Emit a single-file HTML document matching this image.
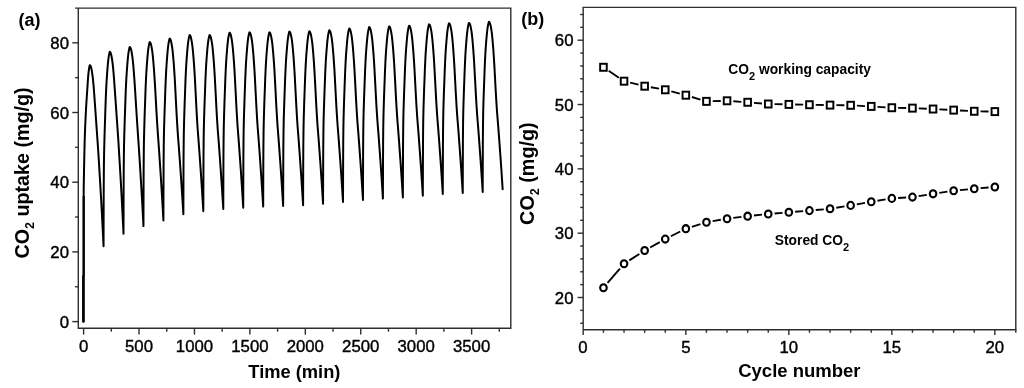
<!DOCTYPE html>
<html><head><meta charset="utf-8"><title>chart</title>
<style>
html,body{margin:0;padding:0;background:#fff;}
svg{display:block;will-change:transform;}
text{font-family:"Liberation Sans",sans-serif;fill:#000;}
.tk{font-size:16.75px;stroke:#000;stroke-width:0.4px;}
.b{font-weight:bold;}
</style></head><body>
<svg width="1024" height="388" viewBox="0 0 1024 388">
<rect width="1024" height="388" fill="#fff"/>

<g stroke="#2e2e2e" stroke-width="1.4" fill="none">
<path d="M78.3 8.1 V328.3 H510.8 V8.1 H75.0"/>
<path d="M83.60 328.3 v6.3"/>
<path d="M111.31 328.3 v3.4"/>
<path d="M139.03 328.3 v6.3"/>
<path d="M166.75 328.3 v3.4"/>
<path d="M194.46 328.3 v6.3"/>
<path d="M222.17 328.3 v3.4"/>
<path d="M249.89 328.3 v6.3"/>
<path d="M277.61 328.3 v3.4"/>
<path d="M305.32 328.3 v6.3"/>
<path d="M333.03 328.3 v3.4"/>
<path d="M360.75 328.3 v6.3"/>
<path d="M388.47 328.3 v3.4"/>
<path d="M416.18 328.3 v6.3"/>
<path d="M443.89 328.3 v3.4"/>
<path d="M471.61 328.3 v6.3"/>
<path d="M499.33 328.3 v3.4"/>
<path d="M78.3 321.60 h-6"/>
<path d="M78.3 286.75 h-3.2"/>
<path d="M78.3 251.90 h-6"/>
<path d="M78.3 217.05 h-3.2"/>
<path d="M78.3 182.20 h-6"/>
<path d="M78.3 147.35 h-3.2"/>
<path d="M78.3 112.50 h-6"/>
<path d="M78.3 77.65 h-3.2"/>
<path d="M78.3 42.80 h-6"/>
</g>
<text class="tk" x="83.60" y="352.2" text-anchor="middle">0</text>
<text class="tk" x="139.03" y="352.2" text-anchor="middle">500</text>
<text class="tk" x="194.46" y="352.2" text-anchor="middle">1000</text>
<text class="tk" x="249.89" y="352.2" text-anchor="middle">1500</text>
<text class="tk" x="305.32" y="352.2" text-anchor="middle">2000</text>
<text class="tk" x="360.75" y="352.2" text-anchor="middle">2500</text>
<text class="tk" x="416.18" y="352.2" text-anchor="middle">3000</text>
<text class="tk" x="471.61" y="352.2" text-anchor="middle">3500</text>
<text class="tk" x="69" y="327.70" text-anchor="end">0</text>
<text class="tk" x="69" y="258.00" text-anchor="end">20</text>
<text class="tk" x="69" y="188.30" text-anchor="end">40</text>
<text class="tk" x="69" y="118.60" text-anchor="end">60</text>
<text class="tk" x="69" y="48.90" text-anchor="end">80</text>
<path d="M83.60 321.60 L83.60 276.30 L83.67 275.60 L83.69 189.17 L83.77 184.63 L83.93 175.17 L84.10 166.22 L84.27 157.92 L84.43 150.40 L84.60 143.82 L84.76 138.29 L84.93 133.40 L85.10 128.94 L85.26 124.87 L85.43 121.11 L85.60 117.60 L85.76 114.29 L85.93 111.10 L86.09 107.99 L86.26 105.05 L86.43 102.28 L86.59 99.66 L86.76 97.14 L86.93 94.69 L87.09 92.27 L87.26 89.85 L87.42 87.35 L87.59 84.77 L87.76 82.20 L87.92 79.72 L88.09 77.41 L88.26 75.34 L88.42 73.61 L88.59 72.19 L88.75 70.85 L88.92 69.58 L89.09 68.41 L89.25 67.36 L89.42 66.47 L89.59 65.75 L89.75 65.23 L90.03 65.20 L90.25 65.43 L90.47 65.74 L90.70 66.19 L90.92 66.86 L91.14 67.64 L91.36 68.53 L91.58 69.58 L91.80 70.77 L92.03 72.09 L92.25 73.53 L92.47 75.07 L92.69 76.82 L92.91 78.83 L93.13 81.06 L93.36 83.44 L93.58 85.94 L93.80 88.53 L94.02 91.37 L94.24 94.41 L94.46 97.55 L94.69 100.70 L94.91 103.79 L95.13 106.89 L95.35 110.01 L95.57 113.15 L95.79 116.31 L96.02 119.48 L96.24 122.64 L96.46 125.81 L96.68 128.96 L96.90 132.08 L97.12 135.20 L97.35 138.32 L97.57 141.47 L97.79 144.65 L98.01 147.89 L98.23 151.20 L98.46 154.59 L98.68 158.09 L98.90 161.69 L99.12 165.36 L99.34 169.08 L99.56 172.82 L99.79 176.55 L100.01 180.28 L100.23 184.00 L100.45 187.75 L100.67 191.52 L100.89 195.35 L101.12 199.23 L101.34 203.19 L101.56 207.25 L101.78 211.41 L102.00 215.64 L102.22 219.91 L102.45 224.22 L102.67 228.55 L102.89 232.93 L103.11 237.35 L103.33 241.81 L103.55 246.32 L103.61 222.38 L103.67 201.83 L103.72 187.99 L103.78 179.50 L103.89 167.12 L104.00 158.82 L104.11 152.57 L104.22 147.63 L104.44 139.37 L104.66 131.64 L104.89 124.70 L105.11 117.98 L105.33 111.15 L105.55 104.53 L105.77 98.53 L106.10 90.65 L106.44 83.95 L106.77 78.54 L107.10 73.84 L107.43 69.29 L107.77 65.12 L108.10 61.70 L108.43 58.80 L108.77 56.41 L109.10 54.55 L109.43 52.99 L109.76 51.86 L109.98 51.96 L110.21 52.19 L110.43 52.50 L110.65 52.95 L110.87 53.62 L111.09 54.41 L111.31 55.30 L111.54 56.35 L111.76 57.55 L111.98 58.87 L112.20 60.32 L112.42 61.87 L112.65 63.62 L112.87 65.64 L113.09 67.87 L113.31 70.27 L113.53 72.78 L113.75 75.38 L113.98 78.23 L114.20 81.28 L114.42 84.44 L114.64 87.60 L114.86 90.70 L115.08 93.81 L115.31 96.94 L115.53 100.10 L115.75 103.26 L115.97 106.44 L116.19 109.62 L116.41 112.80 L116.64 115.96 L116.86 119.10 L117.08 122.23 L117.30 125.36 L117.52 128.52 L117.74 131.71 L117.97 134.96 L118.19 138.28 L118.41 141.69 L118.63 145.21 L118.85 148.82 L119.08 152.50 L119.30 156.24 L119.52 159.99 L119.74 163.74 L119.96 167.48 L120.18 171.22 L120.41 174.98 L120.63 178.77 L120.85 182.60 L121.07 186.50 L121.29 190.48 L121.51 194.56 L121.74 198.73 L121.96 202.97 L122.18 207.26 L122.40 211.58 L122.62 215.93 L122.84 220.33 L123.07 224.77 L123.29 229.25 L123.51 233.78 L123.57 210.77 L123.62 191.04 L123.68 177.74 L123.73 169.59 L123.84 157.70 L123.95 149.72 L124.06 143.72 L124.17 138.97 L124.40 131.04 L124.62 123.61 L124.84 116.94 L125.06 110.49 L125.28 103.94 L125.51 97.58 L125.73 91.81 L126.06 84.24 L126.39 77.80 L126.72 72.61 L127.06 68.09 L127.39 63.73 L127.72 59.72 L128.05 56.43 L128.39 53.65 L128.72 51.35 L129.05 49.56 L129.39 48.07 L129.72 46.98 L129.94 47.07 L130.16 47.31 L130.38 47.61 L130.60 48.06 L130.83 48.72 L131.05 49.49 L131.27 50.37 L131.49 51.40 L131.71 52.57 L131.93 53.88 L132.16 55.30 L132.38 56.83 L132.60 58.57 L132.82 60.59 L133.04 62.82 L133.27 65.22 L133.49 67.73 L133.71 70.34 L133.93 73.19 L134.15 76.24 L134.37 79.43 L134.60 82.68 L134.82 85.94 L135.04 89.32 L135.26 92.79 L135.48 96.31 L135.70 99.83 L135.93 103.38 L136.15 106.96 L136.37 110.53 L136.59 114.05 L136.81 117.47 L137.03 120.85 L137.26 124.19 L137.48 127.49 L137.70 130.75 L137.92 133.96 L138.14 137.15 L138.36 140.36 L138.59 143.62 L138.81 146.95 L139.03 150.37 L139.25 153.84 L139.47 157.34 L139.70 160.85 L139.92 164.36 L140.14 167.88 L140.36 171.42 L140.58 174.98 L140.80 178.59 L141.03 182.24 L141.25 185.95 L141.47 189.74 L141.69 193.60 L141.91 197.53 L142.13 201.50 L142.36 205.51 L142.58 209.54 L142.80 213.62 L143.02 217.74 L143.24 221.91 L143.46 226.11 L143.52 203.45 L143.58 184.01 L143.63 170.91 L143.69 162.88 L143.80 151.17 L143.91 143.31 L144.02 137.40 L144.13 132.72 L144.35 124.91 L144.57 117.59 L144.79 111.02 L145.02 104.67 L145.24 98.21 L145.46 91.94 L145.68 86.26 L146.01 78.81 L146.35 72.46 L146.68 67.35 L147.01 62.90 L147.34 58.60 L147.68 54.65 L148.01 51.41 L148.34 48.67 L148.67 46.41 L149.01 44.65 L149.34 43.18 L149.67 42.10 L149.89 42.20 L150.12 42.43 L150.34 42.73 L150.56 43.17 L150.78 43.83 L151.00 44.60 L151.22 45.48 L151.45 46.50 L151.67 47.67 L151.89 48.97 L152.11 50.38 L152.33 51.92 L152.55 53.66 L152.78 55.69 L153.00 57.95 L153.22 60.38 L153.44 62.93 L153.66 65.57 L153.89 68.45 L154.11 71.54 L154.33 74.80 L154.55 78.16 L154.77 81.62 L154.99 85.30 L155.22 89.14 L155.44 93.06 L155.66 96.97 L155.88 100.92 L156.10 104.93 L156.32 108.94 L156.55 112.84 L156.77 116.58 L156.99 120.24 L157.21 123.83 L157.43 127.31 L157.65 130.66 L157.88 133.87 L158.10 136.97 L158.32 140.02 L158.54 143.06 L158.76 146.16 L158.98 149.35 L159.21 152.62 L159.43 155.91 L159.65 159.22 L159.87 162.55 L160.09 165.89 L160.32 169.25 L160.54 172.64 L160.76 176.05 L160.98 179.50 L161.20 183.00 L161.42 186.55 L161.65 190.15 L161.87 193.81 L162.09 197.51 L162.31 201.25 L162.53 205.03 L162.75 208.85 L162.98 212.70 L163.20 216.60 L163.42 220.54 L163.47 198.13 L163.53 178.91 L163.59 165.96 L163.64 158.03 L163.75 146.45 L163.86 138.67 L163.97 132.83 L164.08 128.21 L164.31 120.48 L164.53 113.25 L164.75 106.75 L164.97 100.47 L165.19 94.09 L165.41 87.89 L165.64 82.28 L165.97 74.90 L166.30 68.63 L166.63 63.58 L166.97 59.17 L167.30 54.92 L167.63 51.02 L167.96 47.82 L168.30 45.11 L168.63 42.88 L168.96 41.13 L169.29 39.68 L169.63 38.62 L169.85 38.71 L170.07 38.94 L170.29 39.23 L170.51 39.67 L170.74 40.32 L170.96 41.08 L171.18 41.94 L171.40 42.94 L171.62 44.09 L171.84 45.37 L172.07 46.76 L172.29 48.28 L172.51 50.01 L172.73 52.03 L172.95 54.28 L173.17 56.71 L173.40 59.27 L173.62 61.92 L173.84 64.79 L174.06 67.88 L174.28 71.16 L174.51 74.61 L174.73 78.22 L174.95 82.15 L175.17 86.31 L175.39 90.58 L175.61 94.82 L175.84 99.11 L176.06 103.50 L176.28 107.88 L176.50 112.12 L176.72 116.13 L176.94 120.03 L177.17 123.81 L177.39 127.42 L177.61 130.83 L177.83 134.00 L178.05 136.97 L178.27 139.83 L178.50 142.63 L178.72 145.46 L178.94 148.40 L179.16 151.42 L179.38 154.47 L179.60 157.54 L179.83 160.65 L180.05 163.77 L180.27 166.92 L180.49 170.10 L180.71 173.29 L180.94 176.50 L181.16 179.74 L181.38 183.01 L181.60 186.32 L181.82 189.67 L182.04 193.07 L182.27 196.50 L182.49 199.98 L182.71 203.49 L182.93 207.05 L183.15 210.64 L183.37 214.26 L183.43 192.20 L183.48 173.28 L183.54 160.52 L183.60 152.71 L183.71 141.31 L183.82 133.65 L183.93 127.90 L184.04 123.35 L184.26 115.74 L184.48 108.62 L184.70 102.22 L184.93 96.04 L185.15 89.75 L185.37 83.65 L185.59 78.12 L185.92 70.86 L186.26 64.69 L186.59 59.71 L186.92 55.37 L187.25 51.19 L187.59 47.34 L187.92 44.19 L188.25 41.53 L188.58 39.33 L188.92 37.61 L189.25 36.18 L189.58 35.13 L189.80 35.22 L190.03 35.45 L190.25 35.75 L190.47 36.19 L190.69 36.84 L190.91 37.60 L191.13 38.46 L191.36 39.47 L191.58 40.62 L191.80 41.89 L192.02 43.30 L192.24 44.81 L192.46 46.55 L192.69 48.57 L192.91 50.83 L193.13 53.26 L193.35 55.82 L193.57 58.48 L193.79 61.36 L194.02 64.46 L194.24 67.74 L194.46 71.19 L194.68 74.81 L194.90 78.75 L195.13 82.92 L195.35 87.20 L195.57 91.45 L195.79 95.75 L196.01 100.15 L196.23 104.53 L196.46 108.78 L196.68 112.80 L196.90 116.70 L197.12 120.49 L197.34 124.11 L197.56 127.53 L197.79 130.70 L198.01 133.68 L198.23 136.54 L198.45 139.35 L198.67 142.19 L198.89 145.13 L199.12 148.16 L199.34 151.21 L199.56 154.29 L199.78 157.40 L200.00 160.54 L200.22 163.69 L200.45 166.87 L200.67 170.07 L200.89 173.29 L201.11 176.53 L201.33 179.81 L201.56 183.13 L201.78 186.49 L202.00 189.89 L202.22 193.33 L202.44 196.82 L202.66 200.34 L202.89 203.89 L203.11 207.49 L203.33 211.13 L203.38 189.45 L203.44 170.86 L203.50 158.33 L203.55 150.65 L203.66 139.45 L203.77 131.93 L203.88 126.28 L203.99 121.80 L204.22 114.33 L204.44 107.33 L204.66 101.05 L204.88 94.97 L205.10 88.79 L205.32 82.80 L205.55 77.37 L205.88 70.24 L206.21 64.17 L206.54 59.28 L206.88 55.02 L207.21 50.91 L207.54 47.13 L207.87 44.03 L208.21 41.42 L208.54 39.25 L208.87 37.57 L209.20 36.16 L209.54 35.13 L209.76 35.22 L209.98 35.45 L210.20 35.74 L210.42 36.18 L210.65 36.82 L210.87 37.57 L211.09 38.42 L211.31 39.42 L211.53 40.55 L211.75 41.81 L211.98 43.20 L212.20 44.70 L212.42 46.41 L212.64 48.41 L212.86 50.64 L213.08 53.05 L213.31 55.58 L213.53 58.20 L213.75 61.05 L213.97 64.11 L214.19 67.36 L214.41 70.77 L214.64 74.34 L214.86 78.23 L215.08 82.35 L215.30 86.58 L215.52 90.78 L215.75 95.03 L215.97 99.38 L216.19 103.71 L216.41 107.90 L216.63 111.87 L216.85 115.73 L217.08 119.48 L217.30 123.06 L217.52 126.43 L217.74 129.57 L217.96 132.51 L218.18 135.34 L218.41 138.11 L218.63 140.92 L218.85 143.82 L219.07 146.81 L219.29 149.83 L219.51 152.88 L219.74 155.95 L219.96 159.05 L220.18 162.17 L220.40 165.31 L220.62 168.47 L220.84 171.64 L221.07 174.85 L221.29 178.09 L221.51 181.37 L221.73 184.69 L221.95 188.05 L222.17 191.45 L222.40 194.89 L222.62 198.37 L222.84 201.89 L223.06 205.44 L223.28 209.03 L223.34 187.32 L223.39 168.69 L223.45 156.13 L223.51 148.44 L223.62 137.22 L223.73 129.68 L223.84 124.02 L223.95 119.53 L224.17 112.05 L224.39 105.04 L224.61 98.74 L224.84 92.65 L225.06 86.46 L225.28 80.46 L225.50 75.02 L225.83 67.87 L226.17 61.79 L226.50 56.89 L226.83 52.62 L227.16 48.50 L227.50 44.71 L227.83 41.61 L228.16 38.99 L228.49 36.82 L228.83 35.13 L229.16 33.72 L229.49 32.69 L229.71 32.78 L229.94 33.01 L230.16 33.31 L230.38 33.74 L230.60 34.39 L230.82 35.14 L231.04 36.00 L231.27 37.00 L231.49 38.14 L231.71 39.41 L231.93 40.81 L232.15 42.32 L232.37 44.04 L232.60 46.05 L232.82 48.29 L233.04 50.72 L233.26 53.26 L233.48 55.90 L233.70 58.76 L233.93 61.84 L234.15 65.11 L234.37 68.54 L234.59 72.14 L234.81 76.05 L235.03 80.20 L235.26 84.45 L235.48 88.68 L235.70 92.95 L235.92 97.32 L236.14 101.68 L236.37 105.90 L236.59 109.89 L236.81 113.78 L237.03 117.54 L237.25 121.15 L237.47 124.54 L237.70 127.70 L237.92 130.66 L238.14 133.50 L238.36 136.29 L238.58 139.12 L238.80 142.04 L239.03 145.04 L239.25 148.08 L239.47 151.15 L239.69 154.24 L239.91 157.35 L240.13 160.49 L240.36 163.65 L240.58 166.83 L240.80 170.03 L241.02 173.25 L241.24 176.51 L241.46 179.81 L241.69 183.15 L241.91 186.53 L242.13 189.95 L242.35 193.42 L242.57 196.91 L242.79 200.45 L243.02 204.03 L243.24 207.64 L243.29 186.05 L243.35 167.53 L243.40 155.05 L243.46 147.41 L243.57 136.25 L243.68 128.76 L243.79 123.13 L243.90 118.67 L244.13 111.23 L244.35 104.26 L244.57 98.00 L244.79 91.95 L245.01 85.79 L245.23 79.83 L245.46 74.42 L245.79 67.31 L246.12 61.27 L246.45 56.40 L246.79 52.15 L247.12 48.06 L247.45 44.29 L247.78 41.21 L248.12 38.60 L248.45 36.45 L248.78 34.77 L249.11 33.37 L249.45 32.34 L249.67 32.44 L249.89 32.66 L250.11 32.95 L250.33 33.39 L250.56 34.03 L250.78 34.78 L251.00 35.64 L251.22 36.64 L251.44 37.77 L251.66 39.04 L251.89 40.43 L252.11 41.93 L252.33 43.65 L252.55 45.65 L252.77 47.88 L252.99 50.30 L253.22 52.83 L253.44 55.46 L253.66 58.31 L253.88 61.38 L254.10 64.63 L254.32 68.05 L254.55 71.63 L254.77 75.53 L254.99 79.66 L255.21 83.89 L255.43 88.11 L255.65 92.36 L255.88 96.72 L256.10 101.06 L256.32 105.26 L256.54 109.24 L256.76 113.11 L256.99 116.86 L257.21 120.44 L257.43 123.83 L257.65 126.97 L257.87 129.92 L258.09 132.75 L258.32 135.53 L258.54 138.34 L258.76 141.25 L258.98 144.25 L259.20 147.27 L259.42 150.33 L259.65 153.40 L259.87 156.51 L260.09 159.63 L260.31 162.78 L260.53 165.94 L260.75 169.13 L260.98 172.34 L261.20 175.59 L261.42 178.87 L261.64 182.20 L261.86 185.57 L262.08 188.98 L262.31 192.43 L262.53 195.91 L262.75 199.44 L262.97 203.00 L263.19 206.60 L263.25 185.14 L263.30 166.73 L263.36 154.32 L263.41 146.72 L263.53 135.63 L263.64 128.18 L263.75 122.59 L263.86 118.16 L264.08 110.76 L264.30 103.83 L264.52 97.61 L264.75 91.59 L264.97 85.47 L265.19 79.54 L265.41 74.17 L265.74 67.10 L266.08 61.10 L266.41 56.25 L266.74 52.04 L267.07 47.96 L267.41 44.22 L267.74 41.16 L268.07 38.57 L268.40 36.42 L268.74 34.75 L269.07 33.36 L269.40 32.34 L269.62 32.43 L269.84 32.66 L270.07 32.95 L270.29 33.39 L270.51 34.03 L270.73 34.77 L270.95 35.63 L271.18 36.62 L271.40 37.75 L271.62 39.01 L271.84 40.39 L272.06 41.89 L272.28 43.60 L272.51 45.60 L272.73 47.82 L272.95 50.22 L273.17 52.75 L273.39 55.37 L273.61 58.21 L273.84 61.26 L274.06 64.50 L274.28 67.91 L274.50 71.48 L274.72 75.36 L274.94 79.47 L275.17 83.69 L275.39 87.88 L275.61 92.12 L275.83 96.46 L276.05 100.78 L276.27 104.97 L276.50 108.93 L276.72 112.78 L276.94 116.52 L277.16 120.09 L277.38 123.46 L277.61 126.59 L277.83 129.53 L278.05 132.35 L278.27 135.12 L278.49 137.92 L278.71 140.82 L278.94 143.80 L279.16 146.81 L279.38 149.85 L279.60 152.92 L279.82 156.01 L280.04 159.12 L280.27 162.26 L280.49 165.41 L280.71 168.58 L280.93 171.78 L281.15 175.02 L281.37 178.29 L281.60 181.60 L281.82 184.96 L282.04 188.35 L282.26 191.79 L282.48 195.26 L282.70 198.77 L282.93 202.31 L283.15 205.90 L283.20 184.44 L283.26 166.03 L283.31 153.62 L283.37 146.02 L283.48 134.93 L283.59 127.49 L283.70 121.89 L283.81 117.46 L284.03 110.06 L284.26 103.13 L284.48 96.91 L284.70 90.89 L284.92 84.78 L285.14 78.85 L285.37 73.47 L285.70 66.40 L286.03 60.40 L286.36 55.56 L286.70 51.34 L287.03 47.27 L287.36 43.53 L287.69 40.46 L288.03 37.87 L288.36 35.73 L288.69 34.06 L289.02 32.66 L289.36 31.65 L289.58 31.74 L289.80 31.96 L290.02 32.26 L290.24 32.69 L290.46 33.33 L290.69 34.08 L290.91 34.93 L291.13 35.92 L291.35 37.05 L291.57 38.32 L291.80 39.70 L292.02 41.19 L292.24 42.90 L292.46 44.90 L292.68 47.12 L292.90 49.53 L293.13 52.05 L293.35 54.67 L293.57 57.51 L293.79 60.56 L294.01 63.81 L294.23 67.21 L294.46 70.78 L294.68 74.66 L294.90 78.77 L295.12 82.99 L295.34 87.18 L295.56 91.42 L295.79 95.76 L296.01 100.09 L296.23 104.27 L296.45 108.23 L296.67 112.09 L296.89 115.82 L297.12 119.40 L297.34 122.76 L297.56 125.89 L297.78 128.83 L298.00 131.65 L298.22 134.42 L298.45 137.22 L298.67 140.12 L298.89 143.10 L299.11 146.12 L299.33 149.16 L299.56 152.22 L299.78 155.31 L300.00 158.43 L300.22 161.56 L300.44 164.71 L300.66 167.89 L300.89 171.09 L301.11 174.32 L301.33 177.59 L301.55 180.90 L301.77 184.26 L301.99 187.66 L302.22 191.09 L302.44 194.56 L302.66 198.07 L302.88 201.62 L303.10 205.20 L303.16 183.78 L303.21 165.41 L303.27 153.03 L303.32 145.45 L303.44 134.38 L303.55 126.95 L303.66 121.36 L303.77 116.94 L303.99 109.56 L304.21 102.64 L304.43 96.43 L304.65 90.43 L304.88 84.32 L305.10 78.40 L305.32 73.04 L305.65 65.99 L305.99 59.99 L306.32 55.16 L306.65 50.95 L306.98 46.89 L307.32 43.15 L307.65 40.10 L307.98 37.51 L308.31 35.37 L308.65 33.70 L308.98 32.31 L309.31 31.30 L309.53 31.39 L309.75 31.61 L309.98 31.90 L310.20 32.34 L310.42 32.97 L310.64 33.71 L310.86 34.56 L311.08 35.55 L311.31 36.67 L311.53 37.93 L311.75 39.30 L311.97 40.79 L312.19 42.49 L312.42 44.47 L312.64 46.68 L312.86 49.07 L313.08 51.58 L313.30 54.18 L313.52 57.01 L313.75 60.04 L313.97 63.26 L314.19 66.65 L314.41 70.19 L314.63 74.05 L314.85 78.14 L315.08 82.33 L315.30 86.50 L315.52 90.71 L315.74 95.03 L315.96 99.33 L316.18 103.49 L316.41 107.42 L316.63 111.25 L316.85 114.97 L317.07 118.52 L317.29 121.87 L317.51 124.98 L317.74 127.90 L317.96 130.70 L318.18 133.46 L318.40 136.24 L318.62 139.12 L318.84 142.08 L319.07 145.08 L319.29 148.10 L319.51 151.15 L319.73 154.22 L319.95 157.32 L320.18 160.43 L320.40 163.56 L320.62 166.72 L320.84 169.90 L321.06 173.11 L321.28 176.36 L321.51 179.66 L321.73 182.99 L321.95 186.37 L322.17 189.78 L322.39 193.23 L322.61 196.72 L322.84 200.24 L323.06 203.81 L323.11 182.43 L323.17 164.10 L323.22 151.74 L323.28 144.17 L323.39 133.12 L323.50 125.71 L323.61 120.13 L323.72 115.72 L323.94 108.35 L324.17 101.45 L324.39 95.26 L324.61 89.26 L324.83 83.17 L325.05 77.26 L325.27 71.91 L325.61 64.87 L325.94 58.89 L326.27 54.07 L326.61 49.87 L326.94 45.81 L327.27 42.08 L327.60 39.03 L327.94 36.45 L328.27 34.32 L328.60 32.65 L328.93 31.27 L329.27 30.25 L329.49 30.34 L329.71 30.57 L329.93 30.86 L330.15 31.29 L330.37 31.92 L330.60 32.66 L330.82 33.50 L331.04 34.49 L331.26 35.61 L331.48 36.85 L331.70 38.22 L331.93 39.70 L332.15 41.40 L332.37 43.37 L332.59 45.58 L332.81 47.95 L333.03 50.45 L333.26 53.05 L333.48 55.86 L333.70 58.88 L333.92 62.09 L334.14 65.46 L334.37 68.99 L334.59 72.84 L334.81 76.91 L335.03 81.08 L335.25 85.23 L335.47 89.43 L335.70 93.72 L335.92 98.01 L336.14 102.15 L336.36 106.07 L336.58 109.89 L336.80 113.58 L337.03 117.12 L337.25 120.45 L337.47 123.55 L337.69 126.46 L337.91 129.25 L338.13 132.00 L338.36 134.77 L338.58 137.64 L338.80 140.59 L339.02 143.57 L339.24 146.58 L339.46 149.62 L339.69 152.68 L339.91 155.76 L340.13 158.86 L340.35 161.98 L340.57 165.12 L340.80 168.29 L341.02 171.49 L341.24 174.73 L341.46 178.01 L341.68 181.33 L341.90 184.69 L342.13 188.09 L342.35 191.53 L342.57 195.01 L342.79 198.52 L343.01 202.06 L343.07 180.69 L343.12 162.36 L343.18 150.00 L343.23 142.43 L343.34 131.38 L343.46 123.97 L343.57 118.39 L343.68 113.98 L343.90 106.61 L344.12 99.71 L344.34 93.51 L344.56 87.52 L344.79 81.43 L345.01 75.52 L345.23 70.16 L345.56 63.13 L345.89 57.15 L346.23 52.33 L346.56 48.12 L346.89 44.07 L347.23 40.34 L347.56 37.29 L347.89 34.71 L348.22 32.57 L348.56 30.91 L348.89 29.52 L349.22 28.51 L349.44 28.60 L349.66 28.82 L349.89 29.11 L350.11 29.54 L350.33 30.17 L350.55 30.91 L350.77 31.75 L350.99 32.74 L351.22 33.85 L351.44 35.10 L351.66 36.46 L351.88 37.94 L352.10 39.63 L352.32 41.60 L352.55 43.80 L352.77 46.17 L352.99 48.67 L353.21 51.26 L353.43 54.06 L353.65 57.08 L353.88 60.28 L354.10 63.64 L354.32 67.17 L354.54 71.01 L354.76 75.07 L354.99 79.23 L355.21 83.38 L355.43 87.56 L355.65 91.85 L355.87 96.13 L356.09 100.26 L356.32 104.17 L356.54 107.98 L356.76 111.67 L356.98 115.20 L357.20 118.53 L357.42 121.62 L357.65 124.52 L357.87 127.31 L358.09 130.05 L358.31 132.81 L358.53 135.68 L358.75 138.62 L358.98 141.60 L359.20 144.60 L359.42 147.63 L359.64 150.69 L359.86 153.76 L360.08 156.86 L360.31 159.97 L360.53 163.11 L360.75 166.27 L360.97 169.46 L361.19 172.70 L361.42 175.97 L361.64 179.28 L361.86 182.64 L362.08 186.03 L362.30 189.46 L362.52 192.93 L362.75 196.43 L362.97 199.97 L363.02 178.69 L363.08 160.42 L363.13 148.12 L363.19 140.58 L363.30 129.57 L363.41 122.19 L363.52 116.64 L363.63 112.24 L363.85 104.90 L364.08 98.03 L364.30 91.86 L364.52 85.89 L364.74 79.82 L364.96 73.94 L365.18 68.60 L365.52 61.60 L365.85 55.64 L366.18 50.84 L366.51 46.65 L366.85 42.61 L367.18 38.90 L367.51 35.86 L367.85 33.29 L368.18 31.16 L368.51 29.51 L368.84 28.12 L369.18 27.12 L369.40 27.21 L369.62 27.43 L369.84 27.72 L370.06 28.15 L370.28 28.78 L370.51 29.52 L370.73 30.36 L370.95 31.34 L371.17 32.46 L371.39 33.70 L371.61 35.07 L371.84 36.55 L372.06 38.24 L372.28 40.21 L372.50 42.41 L372.72 44.78 L372.94 47.27 L373.17 49.86 L373.39 52.67 L373.61 55.69 L373.83 58.89 L374.05 62.25 L374.27 65.78 L374.50 69.61 L374.72 73.68 L374.94 77.84 L375.16 81.99 L375.38 86.17 L375.61 90.46 L375.83 94.73 L376.05 98.87 L376.27 102.78 L376.49 106.59 L376.71 110.28 L376.94 113.81 L377.16 117.14 L377.38 120.23 L377.60 123.13 L377.82 125.92 L378.04 128.65 L378.27 131.42 L378.49 134.28 L378.71 137.23 L378.93 140.21 L379.15 143.21 L379.37 146.24 L379.60 149.29 L379.82 152.37 L380.04 155.47 L380.26 158.58 L380.48 161.71 L380.70 164.88 L380.93 168.07 L381.15 171.30 L381.37 174.57 L381.59 177.89 L381.81 181.25 L382.04 184.64 L382.26 188.07 L382.48 191.53 L382.70 195.04 L382.92 198.58 L382.98 177.38 L383.03 159.19 L383.09 146.93 L383.14 139.42 L383.25 128.46 L383.37 121.11 L383.48 115.58 L383.59 111.20 L383.81 103.89 L384.03 97.05 L384.25 90.90 L384.47 84.95 L384.70 78.91 L384.92 73.05 L385.14 67.74 L385.47 60.76 L385.80 54.83 L386.14 50.04 L386.47 45.87 L386.80 41.85 L387.13 38.16 L387.47 35.13 L387.80 32.57 L388.13 30.45 L388.47 28.80 L388.80 27.42 L389.13 26.42 L389.35 26.51 L389.57 26.73 L389.80 27.02 L390.02 27.45 L390.24 28.08 L390.46 28.82 L390.68 29.65 L390.90 30.64 L391.13 31.75 L391.35 32.99 L391.57 34.36 L391.79 35.83 L392.01 37.52 L392.23 39.49 L392.46 41.68 L392.68 44.05 L392.90 46.54 L393.12 49.12 L393.34 51.92 L393.56 54.93 L393.79 58.13 L394.01 61.48 L394.23 65.00 L394.45 68.83 L394.67 72.88 L394.89 77.04 L395.12 81.18 L395.34 85.35 L395.56 89.63 L395.78 93.90 L396.00 98.02 L396.23 101.93 L396.45 105.73 L396.67 109.41 L396.89 112.93 L397.11 116.26 L397.33 119.34 L397.56 122.24 L397.78 125.02 L398.00 127.75 L398.22 130.51 L398.44 133.37 L398.66 136.31 L398.89 139.28 L399.11 142.28 L399.33 145.30 L399.55 148.35 L399.77 151.42 L399.99 154.51 L400.22 157.62 L400.44 160.74 L400.66 163.90 L400.88 167.09 L401.10 170.31 L401.32 173.58 L401.55 176.89 L401.77 180.23 L401.99 183.62 L402.21 187.04 L402.43 190.50 L402.66 194.00 L402.88 197.53 L402.93 176.38 L402.99 158.22 L403.04 145.99 L403.10 138.50 L403.21 127.56 L403.32 120.22 L403.43 114.70 L403.54 110.33 L403.76 103.04 L403.99 96.21 L404.21 90.07 L404.43 84.14 L404.65 78.11 L404.87 72.26 L405.09 66.96 L405.43 59.99 L405.76 54.07 L406.09 49.30 L406.42 45.14 L406.76 41.12 L407.09 37.44 L407.42 34.41 L407.75 31.86 L408.09 29.74 L408.42 28.10 L408.75 26.72 L409.08 25.72 L409.31 25.81 L409.53 26.03 L409.75 26.32 L409.97 26.75 L410.19 27.37 L410.42 28.10 L410.64 28.94 L410.86 29.91 L411.08 31.02 L411.30 32.26 L411.52 33.61 L411.75 35.08 L411.97 36.75 L412.19 38.71 L412.41 40.89 L412.63 43.24 L412.85 45.72 L413.08 48.28 L413.30 51.07 L413.52 54.06 L413.74 57.24 L413.96 60.57 L414.18 64.07 L414.41 67.87 L414.63 71.90 L414.85 76.03 L415.07 80.15 L415.29 84.30 L415.51 88.55 L415.74 92.79 L415.96 96.89 L416.18 100.77 L416.40 104.55 L416.62 108.21 L416.85 111.71 L417.07 115.01 L417.29 118.08 L417.51 120.96 L417.73 123.72 L417.95 126.44 L418.18 129.18 L418.40 132.02 L418.62 134.94 L418.84 137.89 L419.06 140.87 L419.28 143.88 L419.51 146.91 L419.73 149.96 L419.95 153.03 L420.17 156.12 L420.39 159.23 L420.61 162.36 L420.84 165.53 L421.06 168.73 L421.28 171.98 L421.50 175.27 L421.72 178.60 L421.94 181.96 L422.17 185.37 L422.39 188.80 L422.61 192.28 L422.83 195.79 L422.89 174.68 L422.94 156.56 L423.00 144.35 L423.05 136.88 L423.16 125.96 L423.28 118.63 L423.39 113.13 L423.50 108.77 L423.72 101.49 L423.94 94.67 L424.16 88.55 L424.38 82.63 L424.61 76.61 L424.83 70.77 L425.05 65.48 L425.38 58.53 L425.71 52.62 L426.05 47.86 L426.38 43.70 L426.71 39.70 L427.04 36.02 L427.38 33.00 L427.71 30.45 L428.04 28.34 L428.37 26.70 L428.71 25.33 L429.04 24.33 L429.26 24.42 L429.48 24.64 L429.70 24.92 L429.93 25.35 L430.15 25.97 L430.37 26.71 L430.59 27.54 L430.81 28.51 L431.04 29.62 L431.26 30.85 L431.48 32.20 L431.70 33.66 L431.92 35.34 L432.14 37.29 L432.37 39.46 L432.59 41.81 L432.81 44.28 L433.03 46.84 L433.25 49.62 L433.47 52.61 L433.70 55.78 L433.92 59.11 L434.14 62.60 L434.36 66.39 L434.58 70.41 L434.80 74.54 L435.03 78.64 L435.25 82.78 L435.47 87.03 L435.69 91.26 L435.91 95.35 L436.13 99.22 L436.36 102.99 L436.58 106.64 L436.80 110.14 L437.02 113.43 L437.24 116.49 L437.47 119.37 L437.69 122.12 L437.91 124.83 L438.13 127.57 L438.35 130.40 L438.57 133.32 L438.80 136.27 L439.02 139.24 L439.24 142.24 L439.46 145.26 L439.68 148.31 L439.90 151.37 L440.13 154.46 L440.35 157.56 L440.57 160.69 L440.79 163.85 L441.01 167.05 L441.23 170.29 L441.46 173.57 L441.68 176.89 L441.90 180.25 L442.12 183.64 L442.34 187.08 L442.56 190.54 L442.79 194.05 L442.84 173.02 L442.90 154.98 L442.95 142.82 L443.01 135.37 L443.12 124.50 L443.23 117.20 L443.34 111.72 L443.45 107.38 L443.67 100.13 L443.89 93.34 L444.12 87.24 L444.34 81.34 L444.56 75.35 L444.78 69.54 L445.00 64.27 L445.34 57.35 L445.67 51.46 L446.00 46.72 L446.33 42.58 L446.67 38.59 L447.00 34.92 L447.33 31.92 L447.66 29.38 L448.00 27.28 L448.33 25.64 L448.66 24.28 L448.99 23.28 L449.22 23.37 L449.44 23.59 L449.66 23.88 L449.88 24.30 L450.10 24.93 L450.32 25.66 L450.55 26.49 L450.77 27.46 L450.99 28.57 L451.21 29.80 L451.43 31.16 L451.66 32.62 L451.88 34.29 L452.10 36.24 L452.32 38.42 L452.54 40.77 L452.76 43.24 L452.99 45.80 L453.21 48.57 L453.43 51.56 L453.65 54.73 L453.87 58.06 L454.09 61.55 L454.32 65.35 L454.54 69.37 L454.76 73.49 L454.98 77.59 L455.20 81.74 L455.42 85.98 L455.65 90.21 L455.87 94.30 L456.09 98.18 L456.31 101.95 L456.53 105.60 L456.75 109.09 L456.98 112.39 L457.20 115.45 L457.42 118.32 L457.64 121.08 L457.86 123.79 L458.09 126.53 L458.31 129.36 L458.53 132.28 L458.75 135.22 L458.97 138.20 L459.19 141.20 L459.42 144.22 L459.64 147.26 L459.86 150.33 L460.08 153.41 L460.30 156.51 L460.52 159.64 L460.75 162.80 L460.97 166.00 L461.19 169.24 L461.41 172.53 L461.63 175.85 L461.85 179.20 L462.08 182.60 L462.30 186.03 L462.52 189.50 L462.74 193.00 L462.80 172.06 L462.85 154.09 L462.91 141.98 L462.96 134.57 L463.07 123.74 L463.18 116.47 L463.30 111.01 L463.41 106.69 L463.63 99.47 L463.85 92.70 L464.07 86.63 L464.29 80.76 L464.51 74.79 L464.74 69.00 L464.96 63.75 L465.29 56.86 L465.62 51.00 L465.96 46.27 L466.29 42.15 L466.62 38.18 L466.95 34.53 L467.29 31.54 L467.62 29.01 L467.95 26.92 L468.28 25.29 L468.62 23.93 L468.95 22.94 L469.17 23.02 L469.39 23.24 L469.61 23.53 L469.84 23.95 L470.06 24.57 L470.28 25.30 L470.50 26.13 L470.72 27.10 L470.94 28.20 L471.17 29.43 L471.39 30.77 L471.61 32.23 L471.83 33.90 L472.05 35.84 L472.28 38.01 L472.50 40.35 L472.72 42.81 L472.94 45.36 L473.16 48.12 L473.38 51.10 L473.61 54.26 L473.83 57.57 L474.05 61.04 L474.27 64.83 L474.49 68.83 L474.71 72.94 L474.94 77.02 L475.16 81.15 L475.38 85.38 L475.60 89.59 L475.82 93.66 L476.04 97.52 L476.27 101.28 L476.49 104.91 L476.71 108.39 L476.93 111.67 L477.15 114.72 L477.37 117.58 L477.60 120.33 L477.82 123.03 L478.04 125.75 L478.26 128.57 L478.48 131.48 L478.71 134.42 L478.93 137.38 L479.15 140.36 L479.37 143.37 L479.59 146.41 L479.81 149.46 L480.04 152.53 L480.26 155.62 L480.48 158.73 L480.70 161.88 L480.92 165.07 L481.14 168.29 L481.37 171.56 L481.59 174.87 L481.81 178.21 L482.03 181.60 L482.25 185.01 L482.47 188.47 L482.70 191.96 L482.75 171.01 L482.81 153.05 L482.86 140.94 L482.92 133.52 L483.03 122.69 L483.14 115.43 L483.25 109.96 L483.36 105.64 L483.58 98.42 L483.80 91.66 L484.03 85.59 L484.25 79.71 L484.47 73.74 L484.69 67.96 L484.91 62.71 L485.25 55.81 L485.58 49.95 L485.91 45.23 L486.24 41.11 L486.58 37.13 L486.91 33.48 L487.24 30.49 L487.57 27.96 L487.91 25.87 L488.24 24.24 L488.57 22.88 L488.90 21.89 L489.13 21.98 L489.35 22.19 L489.57 22.48 L489.79 22.89 L490.01 23.51 L490.23 24.23 L490.46 25.05 L490.68 26.01 L490.90 27.10 L491.12 28.32 L491.34 29.65 L491.56 31.09 L491.79 32.74 L492.01 34.66 L492.23 36.81 L492.45 39.12 L492.67 41.56 L492.90 44.08 L493.12 46.82 L493.34 49.76 L493.56 52.89 L493.78 56.17 L494.00 59.61 L494.23 63.35 L494.45 67.31 L494.67 71.38 L494.89 75.42 L495.11 79.50 L495.33 83.69 L495.56 87.85 L495.78 91.89 L496.00 95.71 L496.22 99.42 L496.44 103.02 L496.66 106.47 L496.89 109.71 L497.11 112.73 L497.33 115.56 L497.55 118.28 L497.77 120.95 L497.99 123.65 L498.22 126.44 L498.44 129.32 L498.66 132.22 L498.88 135.15 L499.10 138.11 L499.33 141.09 L499.55 144.09 L499.77 147.11 L499.99 150.15 L500.21 153.20 L500.43 156.29 L500.66 159.40 L500.88 162.56 L501.10 165.75 L501.32 168.99 L501.54 172.26 L501.76 175.57 L501.99 178.91 L502.21 182.30 L502.43 185.72 L502.65 189.17" fill="none" stroke="#000" stroke-width="2.0" stroke-linejoin="round" stroke-linecap="round"/>
<path d="M83.32 321.60 V276.30" stroke="#000" stroke-width="2.4" stroke-linecap="round"/><path d="M83.69 276.30 V196.14" stroke="#000" stroke-width="2.1"/>
<text class="b" x="18.4" y="25.5" font-size="18px">(a)</text>
<text class="b" x="294.4" y="377.6" font-size="18.3px" text-anchor="middle">Time (min)</text>
<text class="b" transform="translate(29.2,258.5) rotate(-90)" font-size="19.7px">CO<tspan font-size="12.5px" dy="4.5">2</tspan><tspan dy="-4.5"> uptake (mg/g)</tspan></text>
<g stroke="#2e2e2e" stroke-width="1.4" fill="none">
<path d="M583.2 7.4 V335.0"/>
<path d="M583.2 329.8 H1015.8 V7.4 H582.5"/>
<path d="M603.45 329.8 v3.0"/>
<path d="M624.05 329.8 v3.0"/>
<path d="M644.65 329.8 v3.0"/>
<path d="M665.25 329.8 v3.0"/>
<path d="M685.85 329.8 v5.2"/>
<path d="M706.45 329.8 v3.0"/>
<path d="M727.05 329.8 v3.0"/>
<path d="M747.65 329.8 v3.0"/>
<path d="M768.25 329.8 v3.0"/>
<path d="M788.85 329.8 v5.2"/>
<path d="M809.45 329.8 v3.0"/>
<path d="M830.05 329.8 v3.0"/>
<path d="M850.65 329.8 v3.0"/>
<path d="M871.25 329.8 v3.0"/>
<path d="M891.85 329.8 v5.2"/>
<path d="M912.45 329.8 v3.0"/>
<path d="M933.05 329.8 v3.0"/>
<path d="M953.65 329.8 v3.0"/>
<path d="M974.25 329.8 v3.0"/>
<path d="M994.85 329.8 v5.2"/>
<path d="M1015.8 329.8 v3"/>
<path d="M583.2 323.23 h-3.0"/>
<path d="M583.2 310.37 h-3.0"/>
<path d="M583.2 297.50 h-5.6"/>
<path d="M583.2 284.63 h-3.0"/>
<path d="M583.2 271.77 h-3.0"/>
<path d="M583.2 258.90 h-3.0"/>
<path d="M583.2 246.04 h-3.0"/>
<path d="M583.2 233.18 h-5.6"/>
<path d="M583.2 220.31 h-3.0"/>
<path d="M583.2 207.44 h-3.0"/>
<path d="M583.2 194.58 h-3.0"/>
<path d="M583.2 181.72 h-3.0"/>
<path d="M583.2 168.85 h-5.6"/>
<path d="M583.2 155.98 h-3.0"/>
<path d="M583.2 143.12 h-3.0"/>
<path d="M583.2 130.25 h-3.0"/>
<path d="M583.2 117.39 h-3.0"/>
<path d="M583.2 104.53 h-5.6"/>
<path d="M583.2 91.66 h-3.0"/>
<path d="M583.2 78.79 h-3.0"/>
<path d="M583.2 65.93 h-3.0"/>
<path d="M583.2 53.06 h-3.0"/>
<path d="M583.2 40.20 h-5.6"/>
<path d="M583.2 27.33 h-3.0"/>
<path d="M583.2 14.47 h-3.0"/>
</g>
<text class="tk" x="582.85" y="352.5" text-anchor="middle">0</text>
<text class="tk" x="685.85" y="352.5" text-anchor="middle">5</text>
<text class="tk" x="788.85" y="352.5" text-anchor="middle">10</text>
<text class="tk" x="891.85" y="352.5" text-anchor="middle">15</text>
<text class="tk" x="994.85" y="352.5" text-anchor="middle">20</text>
<text class="tk" x="573.5" y="303.60" text-anchor="end">20</text>
<text class="tk" x="573.5" y="239.28" text-anchor="end">30</text>
<text class="tk" x="573.5" y="174.95" text-anchor="end">40</text>
<text class="tk" x="573.5" y="110.62" text-anchor="end">50</text>
<text class="tk" x="573.5" y="46.30" text-anchor="end">60</text>
<g stroke="#000" stroke-width="1.85" fill="none"><path d="M608.67 70.80 L618.83 77.65"/><path d="M630.17 82.67 L638.53 84.70"/><path d="M650.86 87.28 L659.04 88.71"/><path d="M671.34 91.39 L679.76 93.60"/><path d="M691.88 97.01 L700.42 99.56"/><path d="M712.75 101.20 L720.75 100.97"/><path d="M733.33 101.25 L741.37 101.82"/><path d="M753.93 102.80 L761.97 103.48"/><path d="M774.55 104.13 L782.55 104.28"/><path d="M795.15 104.49 L803.15 104.62"/><path d="M815.75 104.84 L823.75 104.99"/><path d="M836.35 105.16 L844.35 105.24"/><path d="M856.94 105.63 L864.96 106.06"/><path d="M877.54 106.80 L885.56 107.33"/><path d="M898.15 107.86 L906.15 108.01"/><path d="M918.74 108.40 L926.76 108.75"/><path d="M939.34 109.36 L947.36 109.79"/><path d="M959.94 110.47 L967.96 110.93"/><path d="M980.55 111.38 L988.55 111.50"/><rect x="600.15" y="63.78" width="6.6" height="7.0" fill="#fff" stroke-width="1.95"/><rect x="620.75" y="77.68" width="6.6" height="7.0" fill="#fff" stroke-width="1.95"/><rect x="641.35" y="82.69" width="6.6" height="7.0" fill="#fff" stroke-width="1.95"/><rect x="661.95" y="86.29" width="6.6" height="7.0" fill="#fff" stroke-width="1.95"/><rect x="682.55" y="91.70" width="6.6" height="7.0" fill="#fff" stroke-width="1.95"/><rect x="703.15" y="97.87" width="6.6" height="7.0" fill="#fff" stroke-width="1.95"/><rect x="723.75" y="97.29" width="6.6" height="7.0" fill="#fff" stroke-width="1.95"/><rect x="744.35" y="98.77" width="6.6" height="7.0" fill="#fff" stroke-width="1.95"/><rect x="764.95" y="100.51" width="6.6" height="7.0" fill="#fff" stroke-width="1.95"/><rect x="785.55" y="100.90" width="6.6" height="7.0" fill="#fff" stroke-width="1.95"/><rect x="806.15" y="101.22" width="6.6" height="7.0" fill="#fff" stroke-width="1.95"/><rect x="826.75" y="101.60" width="6.6" height="7.0" fill="#fff" stroke-width="1.95"/><rect x="847.35" y="101.80" width="6.6" height="7.0" fill="#fff" stroke-width="1.95"/><rect x="867.95" y="102.89" width="6.6" height="7.0" fill="#fff" stroke-width="1.95"/><rect x="888.55" y="104.24" width="6.6" height="7.0" fill="#fff" stroke-width="1.95"/><rect x="909.15" y="104.63" width="6.6" height="7.0" fill="#fff" stroke-width="1.95"/><rect x="929.75" y="105.53" width="6.6" height="7.0" fill="#fff" stroke-width="1.95"/><rect x="950.35" y="106.62" width="6.6" height="7.0" fill="#fff" stroke-width="1.95"/><rect x="970.95" y="107.78" width="6.6" height="7.0" fill="#fff" stroke-width="1.95"/><rect x="991.55" y="108.10" width="6.6" height="7.0" fill="#fff" stroke-width="1.95"/></g>
<g stroke="#000" stroke-width="1.85" fill="none"><path d="M607.56 282.95 L619.94 268.57"/><path d="M629.35 260.39 L639.35 253.95"/><path d="M650.16 247.48 L659.74 242.15"/><path d="M670.87 236.25 L680.23 231.52"/><path d="M691.86 226.79 L700.44 224.12"/><path d="M712.66 221.17 L720.84 219.77"/><path d="M733.30 217.94 L741.40 216.95"/><path d="M753.91 215.53 L761.99 214.67"/><path d="M774.53 213.48 L782.57 212.80"/><path d="M795.13 211.76 L803.17 211.11"/><path d="M815.72 210.03 L823.78 209.30"/><path d="M836.27 207.72 L844.43 206.40"/><path d="M856.86 204.30 L865.04 202.87"/><path d="M877.47 200.76 L885.63 199.40"/><path d="M898.14 197.98 L906.16 197.48"/><path d="M918.67 196.10 L926.83 194.80"/><path d="M939.28 192.89 L947.42 191.70"/><path d="M959.92 190.16 L967.98 189.35"/><path d="M980.53 188.20 L988.57 187.52"/><ellipse cx="603.45" cy="287.72" rx="3.3" ry="3.55" fill="#fff" stroke-width="2.05"/><ellipse cx="624.05" cy="263.79" rx="3.3" ry="3.55" fill="#fff" stroke-width="2.05"/><ellipse cx="644.65" cy="250.54" rx="3.3" ry="3.55" fill="#fff" stroke-width="2.05"/><ellipse cx="665.25" cy="239.09" rx="3.3" ry="3.55" fill="#fff" stroke-width="2.05"/><ellipse cx="685.85" cy="228.67" rx="3.3" ry="3.55" fill="#fff" stroke-width="2.05"/><ellipse cx="706.45" cy="222.24" rx="3.3" ry="3.55" fill="#fff" stroke-width="2.05"/><ellipse cx="727.05" cy="218.70" rx="3.3" ry="3.55" fill="#fff" stroke-width="2.05"/><ellipse cx="747.65" cy="216.19" rx="3.3" ry="3.55" fill="#fff" stroke-width="2.05"/><ellipse cx="768.25" cy="214.01" rx="3.3" ry="3.55" fill="#fff" stroke-width="2.05"/><ellipse cx="788.85" cy="212.27" rx="3.3" ry="3.55" fill="#fff" stroke-width="2.05"/><ellipse cx="809.45" cy="210.60" rx="3.3" ry="3.55" fill="#fff" stroke-width="2.05"/><ellipse cx="830.05" cy="208.73" rx="3.3" ry="3.55" fill="#fff" stroke-width="2.05"/><ellipse cx="850.65" cy="205.39" rx="3.3" ry="3.55" fill="#fff" stroke-width="2.05"/><ellipse cx="871.25" cy="201.78" rx="3.3" ry="3.55" fill="#fff" stroke-width="2.05"/><ellipse cx="891.85" cy="198.38" rx="3.3" ry="3.55" fill="#fff" stroke-width="2.05"/><ellipse cx="912.45" cy="197.09" rx="3.3" ry="3.55" fill="#fff" stroke-width="2.05"/><ellipse cx="933.05" cy="193.81" rx="3.3" ry="3.55" fill="#fff" stroke-width="2.05"/><ellipse cx="953.65" cy="190.78" rx="3.3" ry="3.55" fill="#fff" stroke-width="2.05"/><ellipse cx="974.25" cy="188.73" rx="3.3" ry="3.55" fill="#fff" stroke-width="2.05"/><ellipse cx="994.85" cy="186.99" rx="3.3" ry="3.55" fill="#fff" stroke-width="2.05"/></g>
<text class="b" x="521.2" y="24.5" font-size="18px">(b)</text>
<text class="b" x="799.4" y="377.1" font-size="18.5px" text-anchor="middle">Cycle number</text>
<text class="b" transform="translate(534.0,224.9) rotate(-90)" font-size="19.8px">CO<tspan font-size="12.5px" dy="4.5">2</tspan><tspan dy="-4.5"> (mg/g)</tspan></text>
<text class="b" x="728.3" y="74" font-size="13.8px">CO<tspan font-size="11px" dy="5.8">2</tspan><tspan dy="-5.8"> working capacity</tspan></text>
<text class="b" x="774.8" y="244.9" font-size="13.8px">Stored CO<tspan font-size="11px" dy="5.8">2</tspan></text>
</svg></body></html>
